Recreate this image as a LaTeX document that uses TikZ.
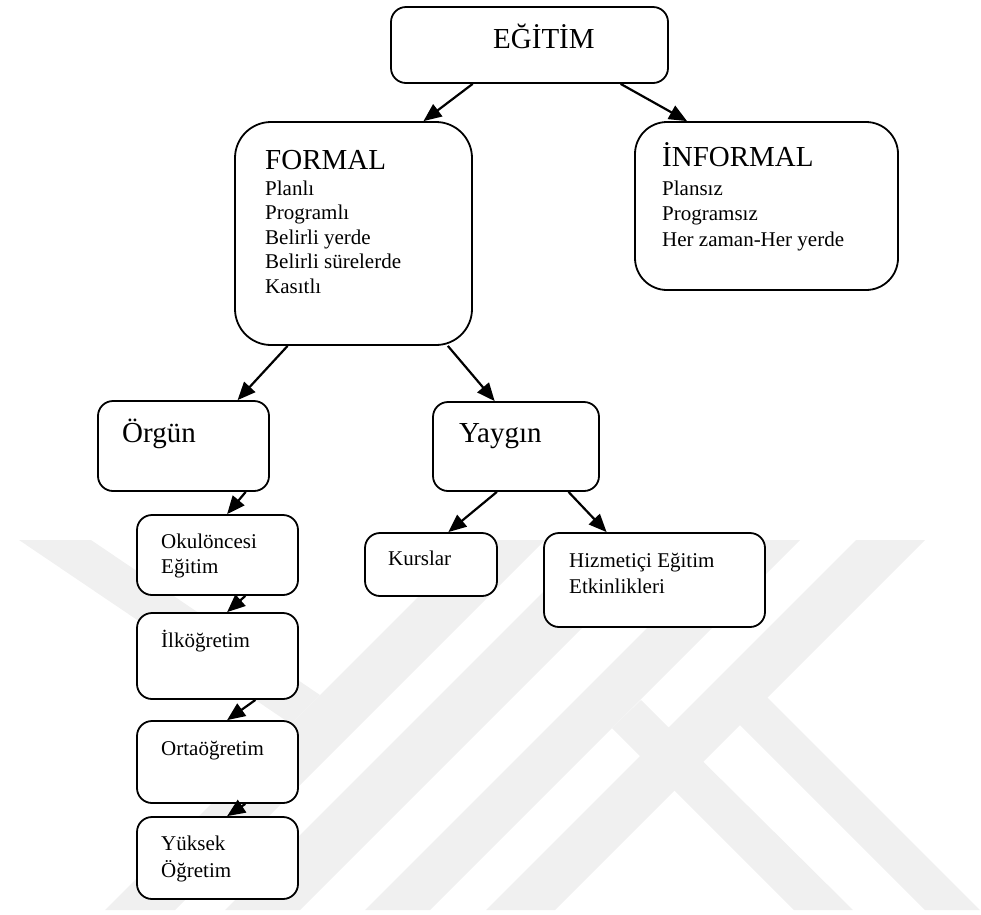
\documentclass[tikz,border=0pt]{standalone}
\usepackage{fontspec}
\setmainfont{Liberation Serif}
\usetikzlibrary{arrows.meta,calc}

\definecolor{mark}{HTML}{F0F0F0}

\tikzset{
  box/.style={draw=black, line width=1.8pt, fill=white, inner sep=0pt},
  big/.style={font=\fontsize{29}{34}\selectfont, anchor=base west, inner sep=0pt},
  small/.style={font=\fontsize{21}{25}\selectfont, anchor=base west, inner sep=0pt},
  arr/.style={line width=2.2pt, -{Triangle[length=18pt,width=15pt]}},
  band/.style={fill=mark, draw=none}
}

\begin{document}
\begin{tikzpicture}[x=1pt, y=-1pt]
\useasboundingbox (0,0) rectangle (981,914);

% background emblem stripes
\fill[band] (19,540) -- (91,540) -- (320,695) -- (291,724) -- cycle;
\fill[band] (475,540) -- (545,540) -- (175,910) -- (105,910) -- cycle;
\fill[band] (595,540) -- (670,540) -- (300,910) -- (225,910) -- cycle;
\fill[band] (735,540) -- (800,540) -- (430,910) -- (365,910) -- cycle;
\fill[band] (856,540) -- (925,540) -- (555,910) -- (486,910) -- cycle;
\fill[band] (730,715) -- (760,690) -- (980,910) -- (925,910) -- cycle;
\fill[band] (612,728) -- (641,700) -- (853,910) -- (794,910) -- cycle;

% boxes
\node[box, rounded corners=15pt, minimum width=277pt, minimum height=76pt] (egitim) at (529.5,45) {};
\node[box, rounded corners=36pt, minimum width=237pt, minimum height=223pt] (formal) at (353.5,233.5) {};
\node[box, rounded corners=32pt, minimum width=263pt, minimum height=168pt] (informal) at (766.5,206) {};
\node[box, rounded corners=15pt, minimum width=171pt, minimum height=90pt] (orgun) at (183.5,446) {};
\node[box, rounded corners=15pt, minimum width=166pt, minimum height=89pt] (yaygin) at (516,446.5) {};
\node[box, rounded corners=15pt, minimum width=161pt, minimum height=80pt] (okul) at (217.5,555) {};
\node[box, rounded corners=15pt, minimum width=161pt, minimum height=86pt] (ilk) at (217.5,656) {};
\node[box, rounded corners=15pt, minimum width=161pt, minimum height=82pt] (orta) at (217.5,762) {};
\node[box, rounded corners=15pt, minimum width=161pt, minimum height=82pt] (yuksek) at (217.5,858) {};
\node[box, rounded corners=15pt, minimum width=132pt, minimum height=63pt] (kurs) at (431,564.5) {};
\node[box, rounded corners=15pt, minimum width=221pt, minimum height=94pt] (hizmet) at (654.5,580) {};

% labels
\node[big] (t-egitim) at (493,48) {EĞİTİM};

\node[big] (t-formal) at (265,169) {FORMAL};
\node[small] (t-f1) at (265,195) {Planlı};
\node[small] (t-f2) at (265,219.5) {Programlı};
\node[small] (t-f3) at (265,244) {Belirli yerde};
\node[small] (t-f4) at (265,268.5) {Belirli sürelerde};
\node[small] (t-f5) at (265,293) {Kasıtlı};

\node[big] (t-informal) at (662,166) {İNFORMAL};
\node[small] (t-i1) at (662,195) {Plansız};
\node[small] (t-i2) at (662,220) {Programsız};
\node[small] (t-i3) at (662,246) {Her zaman-Her yerde};

\node[big] (t-orgun) at (122,442) {Örgün};
\node[big] (t-yaygin) at (459,442) {Yaygın};

\node[small] (t-o1) at (161,548) {Okulöncesi};
\node[small] (t-o2) at (161,573) {Eğitim};
\node[small] (t-ilk) at (161,647) {İlköğretim};
\node[small] (t-orta) at (161,755) {Ortaöğretim};
\node[small] (t-y1) at (161,850) {Yüksek};
\node[small] (t-y2) at (161,877) {Öğretim};

\node[small] (t-kurs) at (388,565) {Kurslar};
\node[small] (t-h1) at (569,567) {Hizmetiçi Eğitim};
\node[small] (t-h2) at (569,593) {Etkinlikleri};

% connectors
\draw[arr] ($(egitim.south west)!0.296!(egitim.south east)$) -- ($(formal.north west)!0.793!(formal.north east)$);
\draw[arr] ($(egitim.south west)!0.827!(egitim.south east)$) -- ($(informal.north west)!0.2!(informal.north east)$);
\draw[arr] ($(formal.south west)!0.224!(formal.south east)$) -- ($(orgun.north west)!0.813!(orgun.north east)$);
\draw[arr] ($(formal.south west)!0.895!(formal.south east)$) -- ($(yaygin.north west)!0.373!(yaygin.north east)$);
\draw[arr] ($(orgun.south west)!0.86!(orgun.south east)$) -- ($(okul.north west)!0.559!(okul.north east)$);
\draw[arr] ($(okul.south west)!0.671!(okul.south east)$) -- ($(ilk.north west)!0.559!(ilk.north east)$);
\draw[arr] ($(ilk.south west)!0.733!(ilk.south east)$) -- ($(orta.north west)!0.559!(orta.north east)$);
\draw[arr] ($(orta.south west)!0.671!(orta.south east)$) -- ($(yuksek.north west)!0.559!(yuksek.north east)$);
\draw[arr] ($(yaygin.south west)!0.386!(yaygin.south east)$) -- ($(kurs.north west)!0.629!(kurs.north east)$);
\draw[arr] ($(yaygin.south west)!0.813!(yaygin.south east)$) -- ($(hizmet.north west)!0.285!(hizmet.north east)$);
\end{tikzpicture}
\end{document}
